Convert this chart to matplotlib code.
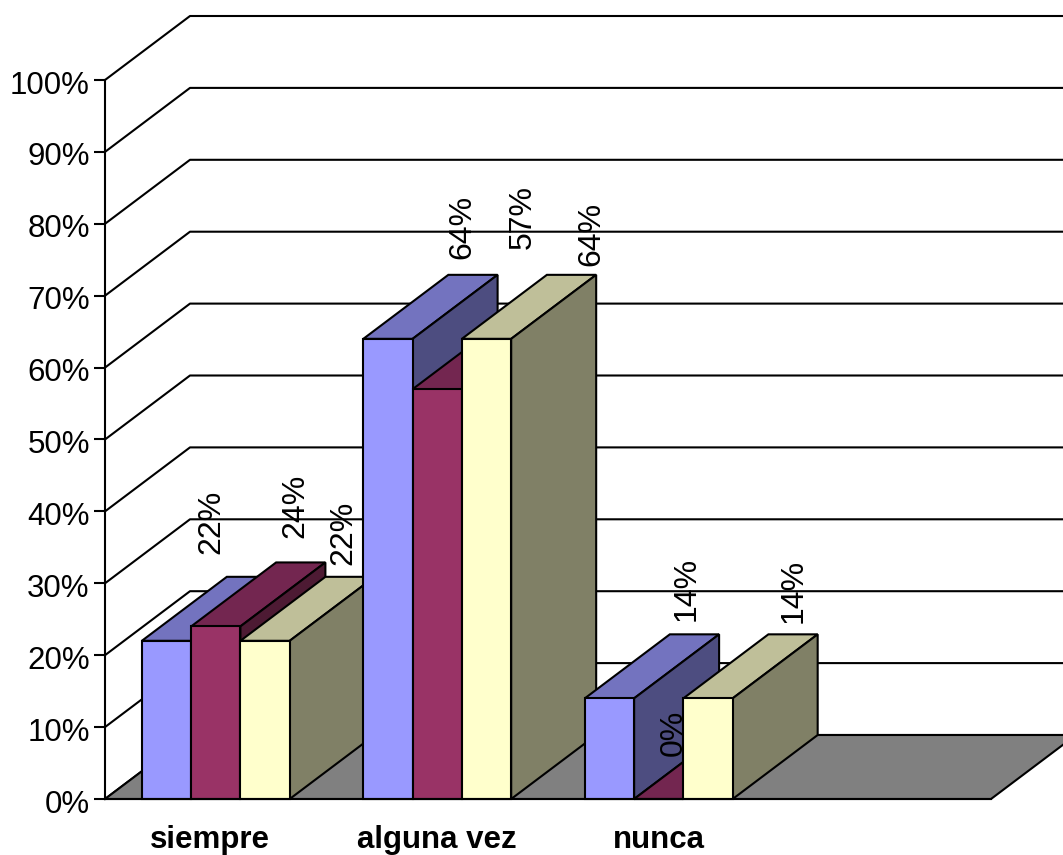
import numpy as np
import matplotlib
matplotlib.use("Agg")
import matplotlib.pyplot as plt
from matplotlib.transforms import ScaledTranslation

plt.rcParams['font.family'] = ['Liberation Sans', 'DejaVu Sans']

categories = ["siempre", "alguna vez", "nunca"]
serie_a = [22, 64, 14]
serie_b = [24, 57, 0]
serie_c = [22, 64, 14]
y_ticks = [0, 10, 20, 30, 40, 50, 60, 70, 80, 90, 100]

# front, top and side shades for each series
shades = [("#9999FF", "#7373BF", "#4D4D80"),
          ("#993366", "#732650", "#4D1A33"),
          ("#FFFFCC", "#BFBF99", "#808066")]

# hand placed labels in the original, pixels from the top of each bar
label_offsets = [[(45, 87), (80, 88), (78, 76)],
                 [(74, 80), (86, 140), (105, 73)],
                 [(77, 77), (15, 43), (86, 75)]]

W, H = 1063, 855
fig = plt.figure(figsize=(W / 100, H / 100), dpi=100)
ax = fig.add_axes([105 / W, (H - 799) / H, (991 - 105) / W, (799 - 80) / H])
ax.set_xlim(0, 4)
ax.set_ylim(0, 100)

lw = 1.5
# depth of the fake 3d box in data units
dx = 85 / (886 / 4)
dy = 64 / 7.19
bar_w = 0.2225
start = (1 - 3 * bar_w) / 2

# back wall grid
for v in y_ticks:
    ax.plot([0, dx, 4 + dx], [v, v + dy, v + dy], color="black", lw=lw,
            clip_on=False, zorder=1, solid_joinstyle="round")

# floor
ax.fill([0, 4, 4 + dx, dx], [0, 0, dy, dy], facecolor="#808080", edgecolor="black",
        lw=lw, clip_on=False, zorder=2)

series = [serie_a, serie_b, serie_c]
z = 3
for g in range(len(categories)):
    for s in range(3):
        v = series[s][g]
        x0 = g + start + s * bar_w
        x1 = x0 + bar_w
        front, top, side = shades[s]
        ax.fill([x0, x1, x1 + dx, x0 + dx], [v, v, v + dy, v + dy], facecolor=top,
                edgecolor="black", lw=lw, clip_on=False, zorder=z)
        ax.fill([x1, x1 + dx, x1 + dx, x1], [0, dy, v + dy, v], facecolor=side,
                edgecolor="black", lw=lw, clip_on=False, zorder=z)
        ax.bar(x0, v, width=bar_w, align="edge", color=front, edgecolor="black",
               lw=lw, clip_on=False, zorder=z)
        off = label_offsets[g][s]
        ax.annotate(f"{v}%", xy=((x0 + x1) / 2, v), xytext=off, textcoords="offset pixels",
                    rotation=90, ha="center", va="bottom", fontsize=23, color="black",
                    annotation_clip=False, zorder=z + 0.5)
        z += 1

for name in ["top", "right"]:
    ax.spines[name].set_visible(False)
ax.spines["left"].set_linewidth(lw)
ax.spines["bottom"].set_linewidth(lw)
ax.spines["left"].set_zorder(z)
ax.spines["bottom"].set_zorder(z)
ax.patch.set_visible(False)

ax.set_yticks(y_ticks)
ax.set_yticklabels([f"{v}%" for v in y_ticks], fontsize=22.5)
ax.tick_params(axis="y", length=8, width=lw, pad=3)
for lab in ax.get_yticklabels():
    lab.set_transform(lab.get_transform() + ScaledTranslation(0, -2 / 100, fig.dpi_scale_trans))
ax.set_xticks([0.475, 1.5, 2.5])
ax.set_xticklabels(categories, fontsize=22.5, fontweight="bold")
ax.tick_params(axis="x", length=0, pad=19)

fig.savefig("out.png", dpi=100)
